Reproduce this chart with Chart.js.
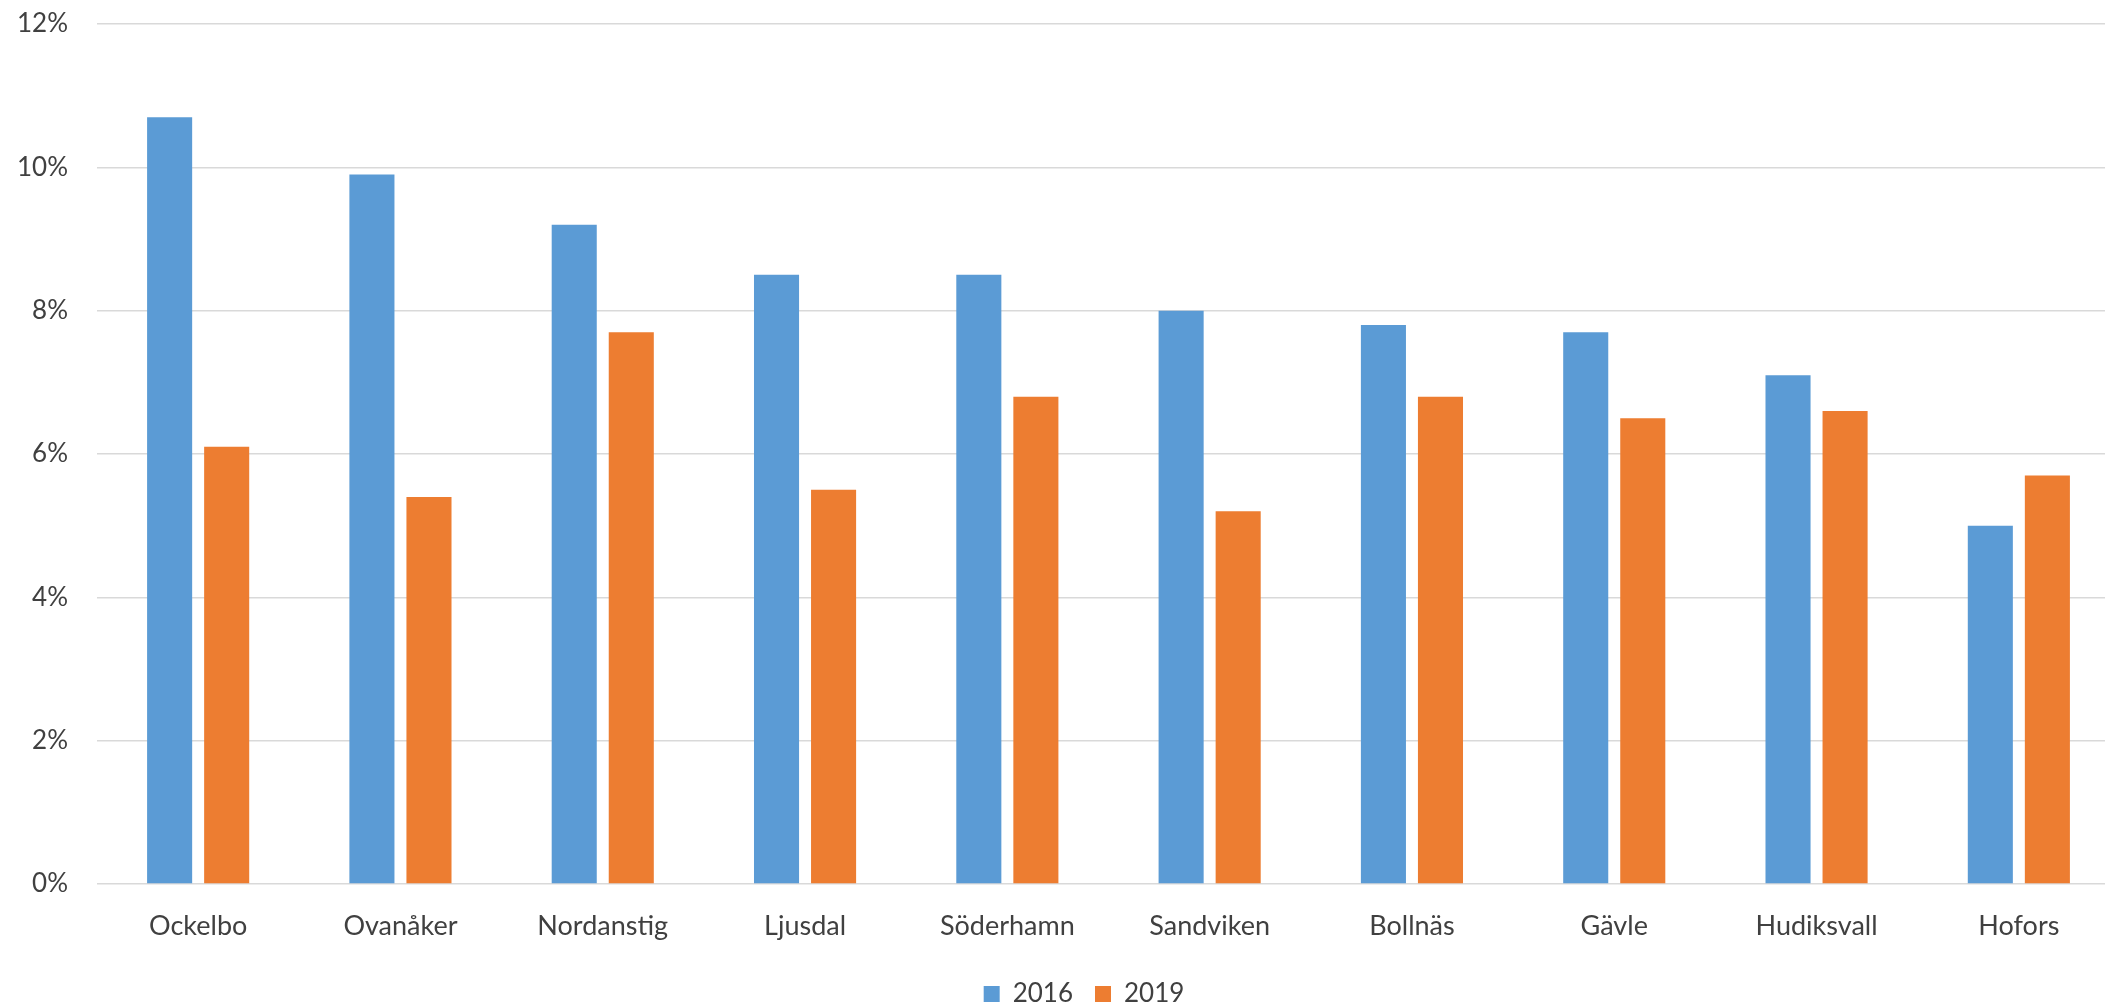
<!DOCTYPE html>
<html>
<head>
<meta charset="utf-8">
<script src="https://cdn.jsdelivr.net/npm/chart.js@4"></script>
<style>
  html, body { margin: 0; padding: 0; background: #ffffff; overflow: hidden; }
  #wrap { position: absolute; left: 0; top: 0; width: 2164px; height: 1007px; }
</style>
</head>
<body>
<div id="wrap"><canvas id="c" width="2164" height="1007"></canvas></div>
<script>
// Municipalities and shares (%) for the two years
const municipalities = ['Ockelbo', 'Ovanåker', 'Nordanstig', 'Ljusdal', 'Söderhamn', 'Sandviken', 'Bollnäs', 'Gävle', 'Hudiksvall', 'Hofors'];
const values2016 = [10.7, 9.9, 9.2, 8.5, 8.5, 8.0, 7.8, 7.7, 7.1, 5.0];
const values2019 = [6.1, 5.4, 7.7, 5.5, 6.8, 5.2, 6.8, 6.5, 6.6, 5.7];
const seriesLabels = ['2016', '2019'];
const yTicks = [0, 2, 4, 6, 8, 10, 12];

const FONT = 'Lato, Carlito, Calibri, "Open Sans", sans-serif';
const TEXT = '#404040';

// Nudge the legend box to the right after layout so it sits centred under the full chart width
const legendShift = {
  id: 'legendShift',
  afterLayout(chart) {
    if (chart.legend) {
      chart.legend.left += 24;
      chart.legend.right += 24;
    }
  }
};

new Chart(document.getElementById('c'), {
  type: 'bar',
  data: {
    labels: municipalities,
    datasets: [
      { label: seriesLabels[0], data: values2016, backgroundColor: '#5B9BD5', borderWidth: 0,
        categoryPercentage: 0.564, barPercentage: 0.79 },
      { label: seriesLabels[1], data: values2019, backgroundColor: '#ED7D31', borderWidth: 0,
        categoryPercentage: 0.564, barPercentage: 0.79 }
    ]
  },
  plugins: [legendShift],
  options: {
    responsive: false,
    animation: false,
    layout: { padding: { left: 0, right: 44, top: 24, bottom: -10 } },
    plugins: {
      tooltip: { enabled: false },
      legend: {
        position: 'bottom',
        labels: {
          font: { family: FONT, size: 26 },
          color: TEXT,
          boxWidth: 16,
          boxHeight: 16,
          padding: 22
        }
      }
    },
    scales: {
      x: {
        grid: { display: false, drawTicks: false },
        border: { display: false },
        ticks: { font: { family: FONT, size: 27 }, color: TEXT, padding: 26, maxRotation: 0 },
        afterFit: (s) => { s.height = 75; }
      },
      y: {
        min: 0,
        max: 12,
        afterBuildTicks: (s) => { s.ticks = yTicks.map(v => ({ value: v })); },
        grid: { color: '#D9D9D9', lineWidth: 1.5, drawTicks: false },
        border: { display: false },
        ticks: {
          font: { family: FONT, size: 26 },
          color: TEXT,
          padding: 29,
          callback: (v) => v + '%'
        },
        afterFit: (s) => { s.width = 97; s.paddingTop = 0; }
      }
    }
  }
});
</script>
</body>
</html>
